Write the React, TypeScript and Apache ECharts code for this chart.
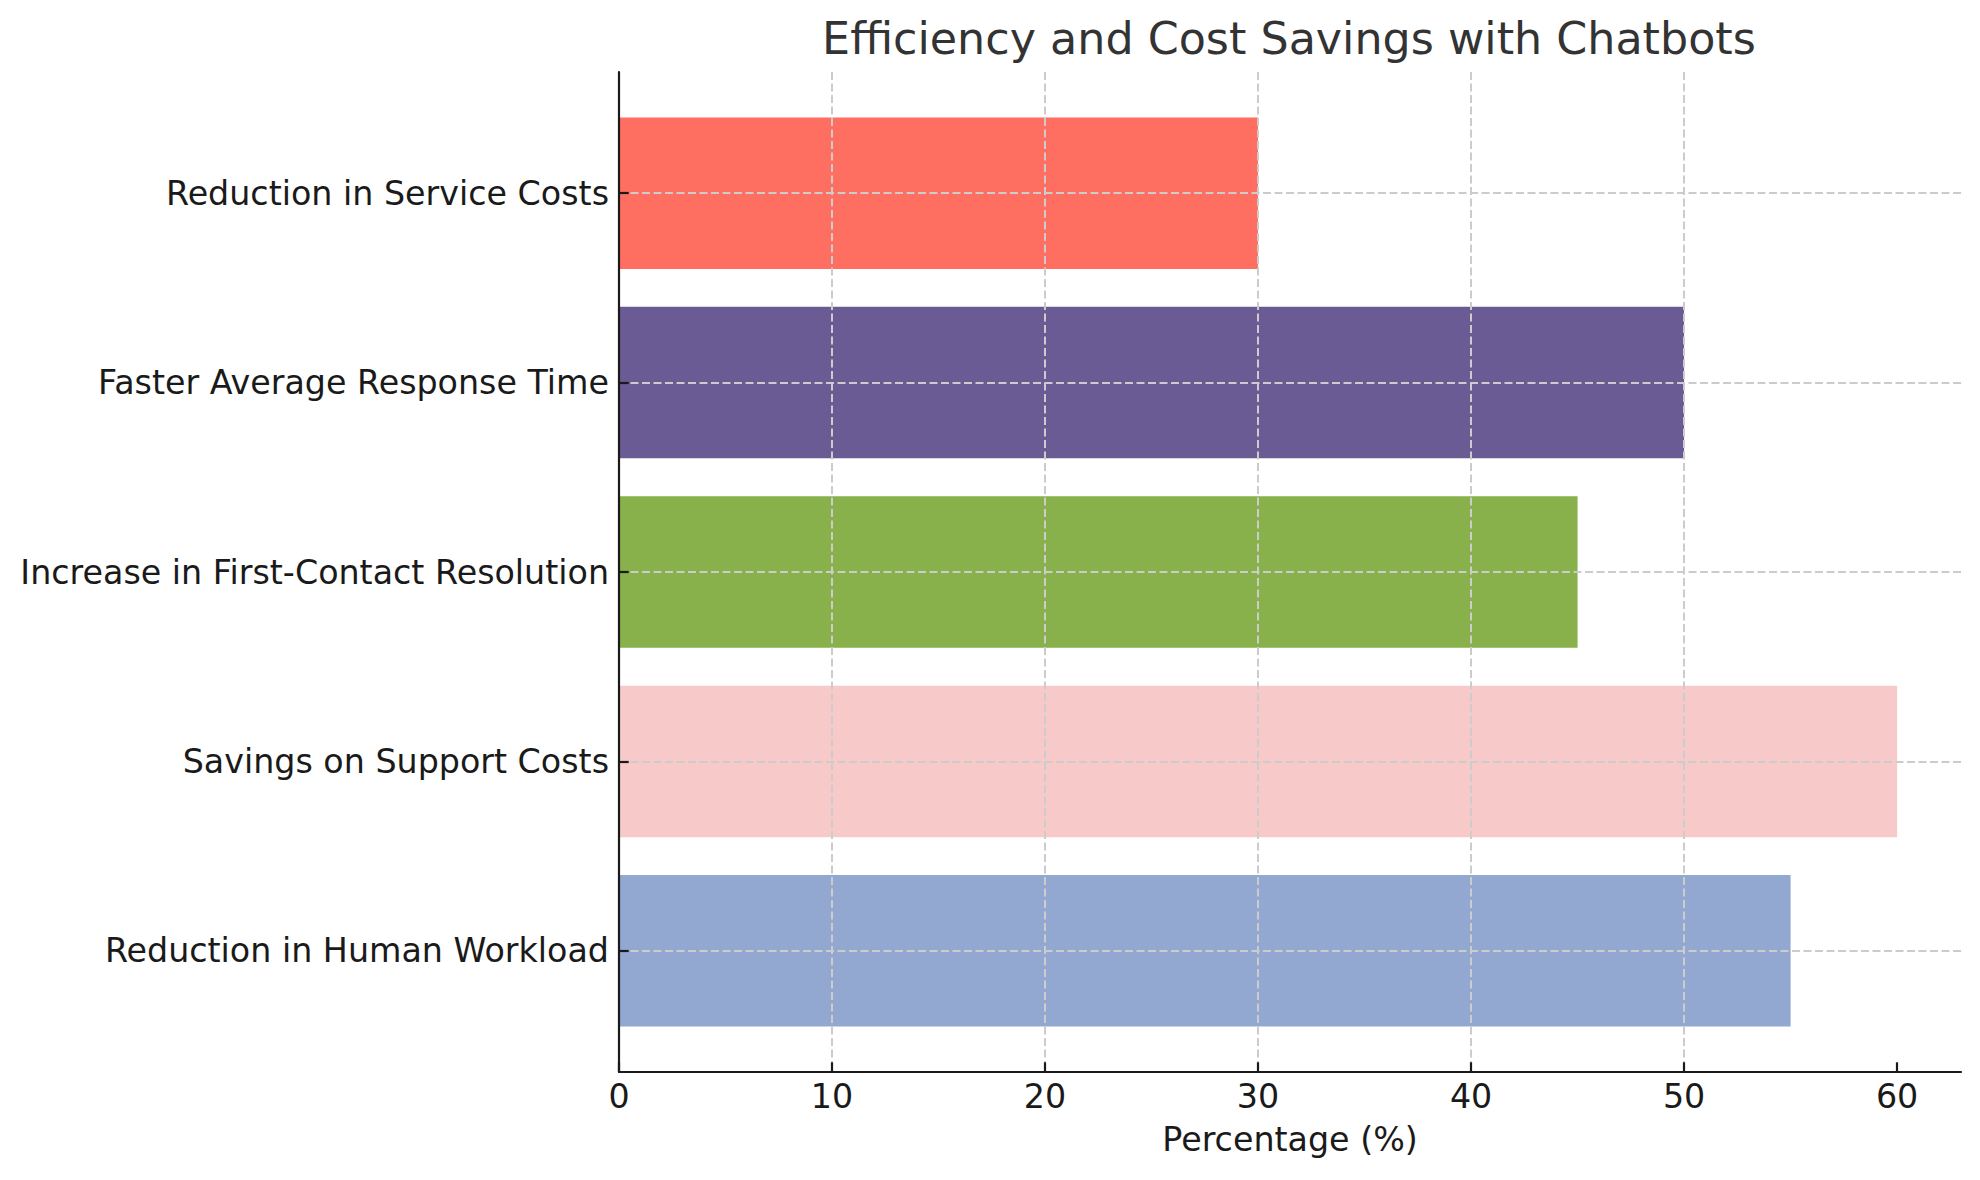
import React, { useEffect, useRef } from "react";
import * as echarts from "echarts";

// Horizontal bar chart: chatbot efficiency metrics (bottom to top)
const categories = [
  "Reduction in Human Workload",
  "Savings on Support Costs",
  "Increase in First-Contact Resolution",
  "Faster Average Response Time",
  "Reduction in Service Costs",
];
const percentages = [55, 60, 45, 50, 30];
const barColors = ["#92A8D1", "#F7CAC9", "#88B04B", "#6B5B95", "#FF6F61"];
const xTickValues = [0, 10, 20, 30, 40, 50, 60];
const xMax = 63;

const FONT = "DejaVu Sans";
const LABEL_SIZE = 33.3;
const TITLE_SIZE = 44.4;
const INK = "#1a1a1a";
const GRID_LINE = { color: "#cccccc", width: 2, type: [8, 3.5] as number[] };

export default function App() {
  const ref = useRef<HTMLDivElement>(null);

  useEffect(() => {
    document.body.style.margin = "0";
    const chart = echarts.init(ref.current!, null, { renderer: "svg" });

    const frame = { left: 619, right: 19, top: 72, bottom: 108 };
    // inner grid spans bar centres (index 4 at top, index 0 at bottom)
    const bars = { left: 619, right: 19, top: 193.2, bottom: 229.2 };

    chart.setOption({
      animation: false,
      backgroundColor: "#ffffff",
      title: {
        text: "Efficiency and Cost Savings with Chatbots",
        left: 1284,
        top: 11,
        textAlign: "center",
        textStyle: {
          fontFamily: FONT,
          fontSize: TITLE_SIZE,
          fontWeight: "normal",
          color: "#333333",
        },
      },
      grid: [
        { ...frame, containLabel: false },
        { ...bars, containLabel: false },
      ],
      xAxis: [
        {
          type: "value",
          gridIndex: 0,
          min: 0,
          max: xMax,
          interval: 10,
          z: 3,
          name: "Percentage (%)",
          nameLocation: "middle",
          nameGap: 51,
          nameTextStyle: { fontFamily: FONT, fontSize: LABEL_SIZE, color: INK },
          axisLine: { show: true, onZero: false, lineStyle: { color: INK, width: 2.2 } },
          axisTick: {
            show: true,
            inside: true,
            length: 9.7,
            lineStyle: { color: INK, width: 2.2 },
            customValues: xTickValues,
          },
          axisLabel: {
            show: true,
            margin: 8,
            fontFamily: FONT,
            fontSize: LABEL_SIZE,
            color: INK,
            customValues: xTickValues,
          },
          splitLine: { show: true, showMaxLine: false, lineStyle: GRID_LINE },
        },
        {
          type: "value",
          gridIndex: 1,
          min: 0,
          max: xMax,
          show: false,
        },
      ],
      yAxis: [
        {
          type: "value",
          gridIndex: 0,
          min: 0,
          max: 1,
          z: 3,
          axisLine: { show: true, onZero: false, lineStyle: { color: INK, width: 2.2 } },
          axisTick: { show: false },
          axisLabel: { show: false },
          splitLine: { show: false },
        },
        {
          type: "value",
          gridIndex: 1,
          min: 0,
          max: categories.length - 1,
          interval: 1,
          z: 3,
          axisLine: { show: false },
          axisTick: {
            show: true,
            inside: true,
            length: 9.7,
            lineStyle: { color: INK, width: 2.2 },
          },
          axisLabel: {
            show: true,
            margin: 10,
            fontFamily: FONT,
            fontSize: LABEL_SIZE,
            color: INK,
            formatter: (v: number) => categories[Math.round(v)] ?? "",
          },
          splitLine: { show: true, lineStyle: GRID_LINE },
        },
      ],
      series: [
        {
          type: "custom",
          xAxisIndex: 1,
          yAxisIndex: 1,
          z: 1,
          clip: false,
          data: percentages.map((v, i) => [v, i]),
          encode: { x: 0, y: 1 },
          renderItem: (params: any, api: any) => {
            const v = api.value(0);
            const i = api.value(1);
            const p0 = api.coord([0, i + 0.4]);
            const p1 = api.coord([v, i - 0.4]);
            return {
              type: "rect",
              shape: {
                x: p0[0],
                y: p0[1],
                width: p1[0] - p0[0],
                height: p1[1] - p0[1],
              },
              style: { fill: barColors[i] },
            };
          },
        },
      ],
    });

    return () => chart.dispose();
  }, []);

  return <div ref={ref} style={{ width: 1980, height: 1180 }} />;
}
